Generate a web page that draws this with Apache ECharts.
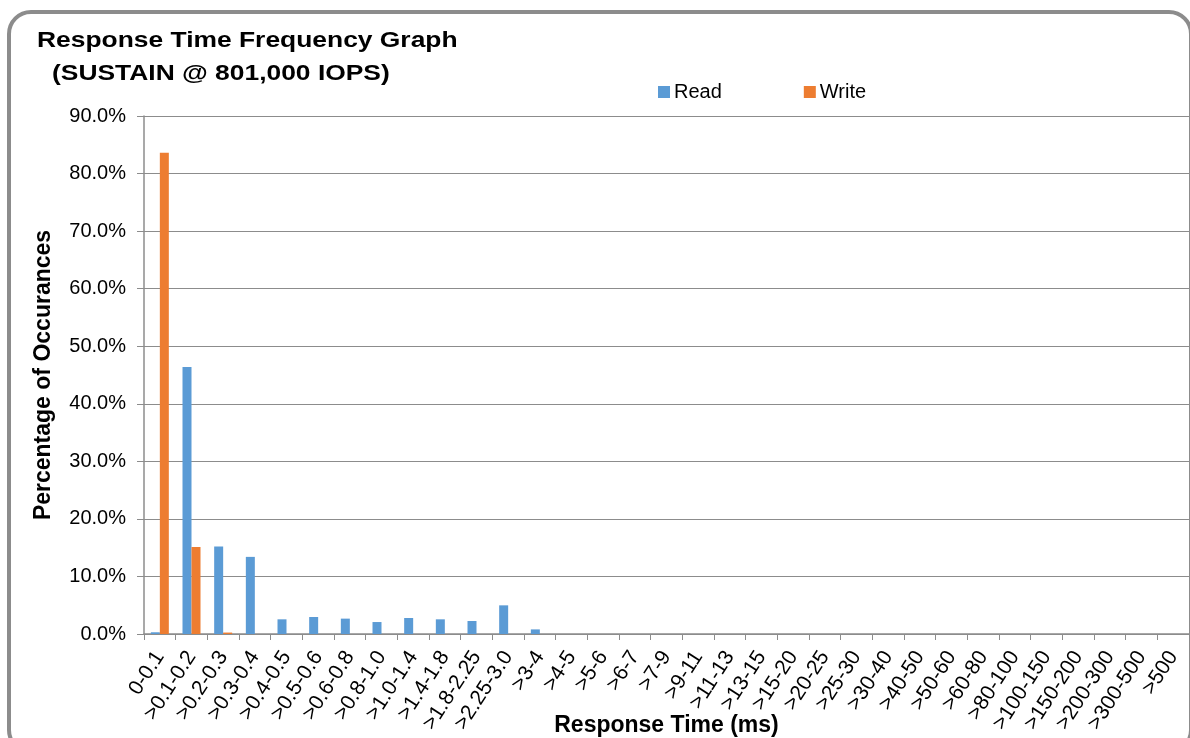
<!DOCTYPE html>
<html>
<head>
<meta charset="utf-8">
<script src="https://cdn.jsdelivr.net/npm/echarts@6/dist/echarts.min.js"></script>
<style>
html,body{margin:0;padding:0;background:#fff;overflow:hidden;}
#chart{width:1190px;height:738px;}
</style>
</head>
<body>
<div id="chart"></div>
<script>
const categories = ['0-0.1','>0.1-0.2','>0.2-0.3','>0.3-0.4','>0.4-0.5','>0.5-0.6','>0.6-0.8','>0.8-1.0','>1.0-1.4','>1.4-1.8','>1.8-2.25','>2.25-3.0','>3-4','>4-5','>5-6','>6-7','>7-9','>9-11','>11-13','>13-15','>15-20','>20-25','>25-30','>30-40','>40-50','>50-60','>60-80','>80-100','>100-150','>150-200','>200-300','>300-500','>500'];
const readValues = [0.3,46.4,15.2,13.4,2.55,2.95,2.67,2.08,2.78,2.55,2.26,4.98,0.8,0,0,0,0,0,0,0,0,0,0,0,0,0,0,0,0,0,0,0,0];
const writeValues = [83.6,15.1,0.25,0,0,0,0,0,0,0,0,0,0,0,0,0,0,0,0,0,0,0,0,0,0,0,0,0,0,0,0,0,0];
const titleLine1 = 'Response Time Frequency Graph';
const titleLine2 = '(SUSTAIN @ 801,000 IOPS)';

const chart = echarts.init(document.getElementById('chart'));
const FONT = '"Liberation Sans", Arial, sans-serif';
chart.setOption({
  animation: false,
  backgroundColor: '#fff',
  textStyle: { fontFamily: FONT },
  graphic: [
    { type: 'rect', shape: { x: 9, y: 12, width: 1182, height: 740, r: 22 },
      style: { fill: null, stroke: '#8c8c8c', lineWidth: 4 }, z: 100 },
    { type: 'text', x: 37, y: 30, scaleX: 1.2,
      style: { text: titleLine1, font: 'bold 22px ' + FONT, fill: '#000', verticalAlign: 'top' } },
    { type: 'text', x: 52, y: 63, scaleX: 1.2,
      style: { text: titleLine2, font: 'bold 22px ' + FONT, fill: '#000', verticalAlign: 'top' } }
  ],
  legend: {
    left: 653, top: 77, itemWidth: 12, itemHeight: 12, itemGap: 82,
    icon: 'rect',
    textStyle: { fontSize: 20, color: '#000', fontFamily: FONT, padding: [0,0,0,-1] },
    data: ['Read', 'Write']
  },
  grid: { left: 144, top: 116, right: 1, bottom: 104, containLabel: false, outerBoundsMode: 'none' },
  xAxis: {
    type: 'category', data: categories,
    name: 'Response Time (ms)', nameLocation: 'middle', nameGap: 80, nameMoveOverlap: false,
    nameTextStyle: { fontSize: 23, fontWeight: 'bold', color: '#000', fontFamily: FONT },
    axisLine: { lineStyle: { color: '#8c8c8c', width: 1.5 } },
    axisTick: { show: true, length: 6, lineStyle: { color: '#8c8c8c' } },
    axisLabel: { interval: 0, rotate: 57, fontSize: 21, color: '#000', margin: 19, fontFamily: FONT }
  },
  yAxis: {
    type: 'value', min: 0, max: 90, interval: 10,
    name: 'Percentage of Occurances', nameLocation: 'middle', nameGap: 89, nameMoveOverlap: false,
    nameTextStyle: { fontSize: 23, fontWeight: 'bold', color: '#000', fontFamily: FONT },
    axisLine: { show: true, lineStyle: { color: '#8c8c8c', width: 1.5 } },
    axisTick: { show: true, length: 7, lineStyle: { color: '#8c8c8c' } },
    axisLabel: { fontSize: 20, color: '#000', margin: 18, fontFamily: FONT,
      formatter: v => v.toFixed(1) + '%' },
    splitLine: { lineStyle: { color: '#8c8c8c', width: 1.2 } }
  },
  series: [
    { name: 'Read', type: 'bar', data: readValues, barWidth: 9, barGap: '0%',
      itemStyle: { color: '#5B9BD5' } },
    { name: 'Write', type: 'bar', data: writeValues, barWidth: 9, barGap: '0%',
      itemStyle: { color: '#ED7D31' } }
  ]
});
</script>
</body>
</html>
